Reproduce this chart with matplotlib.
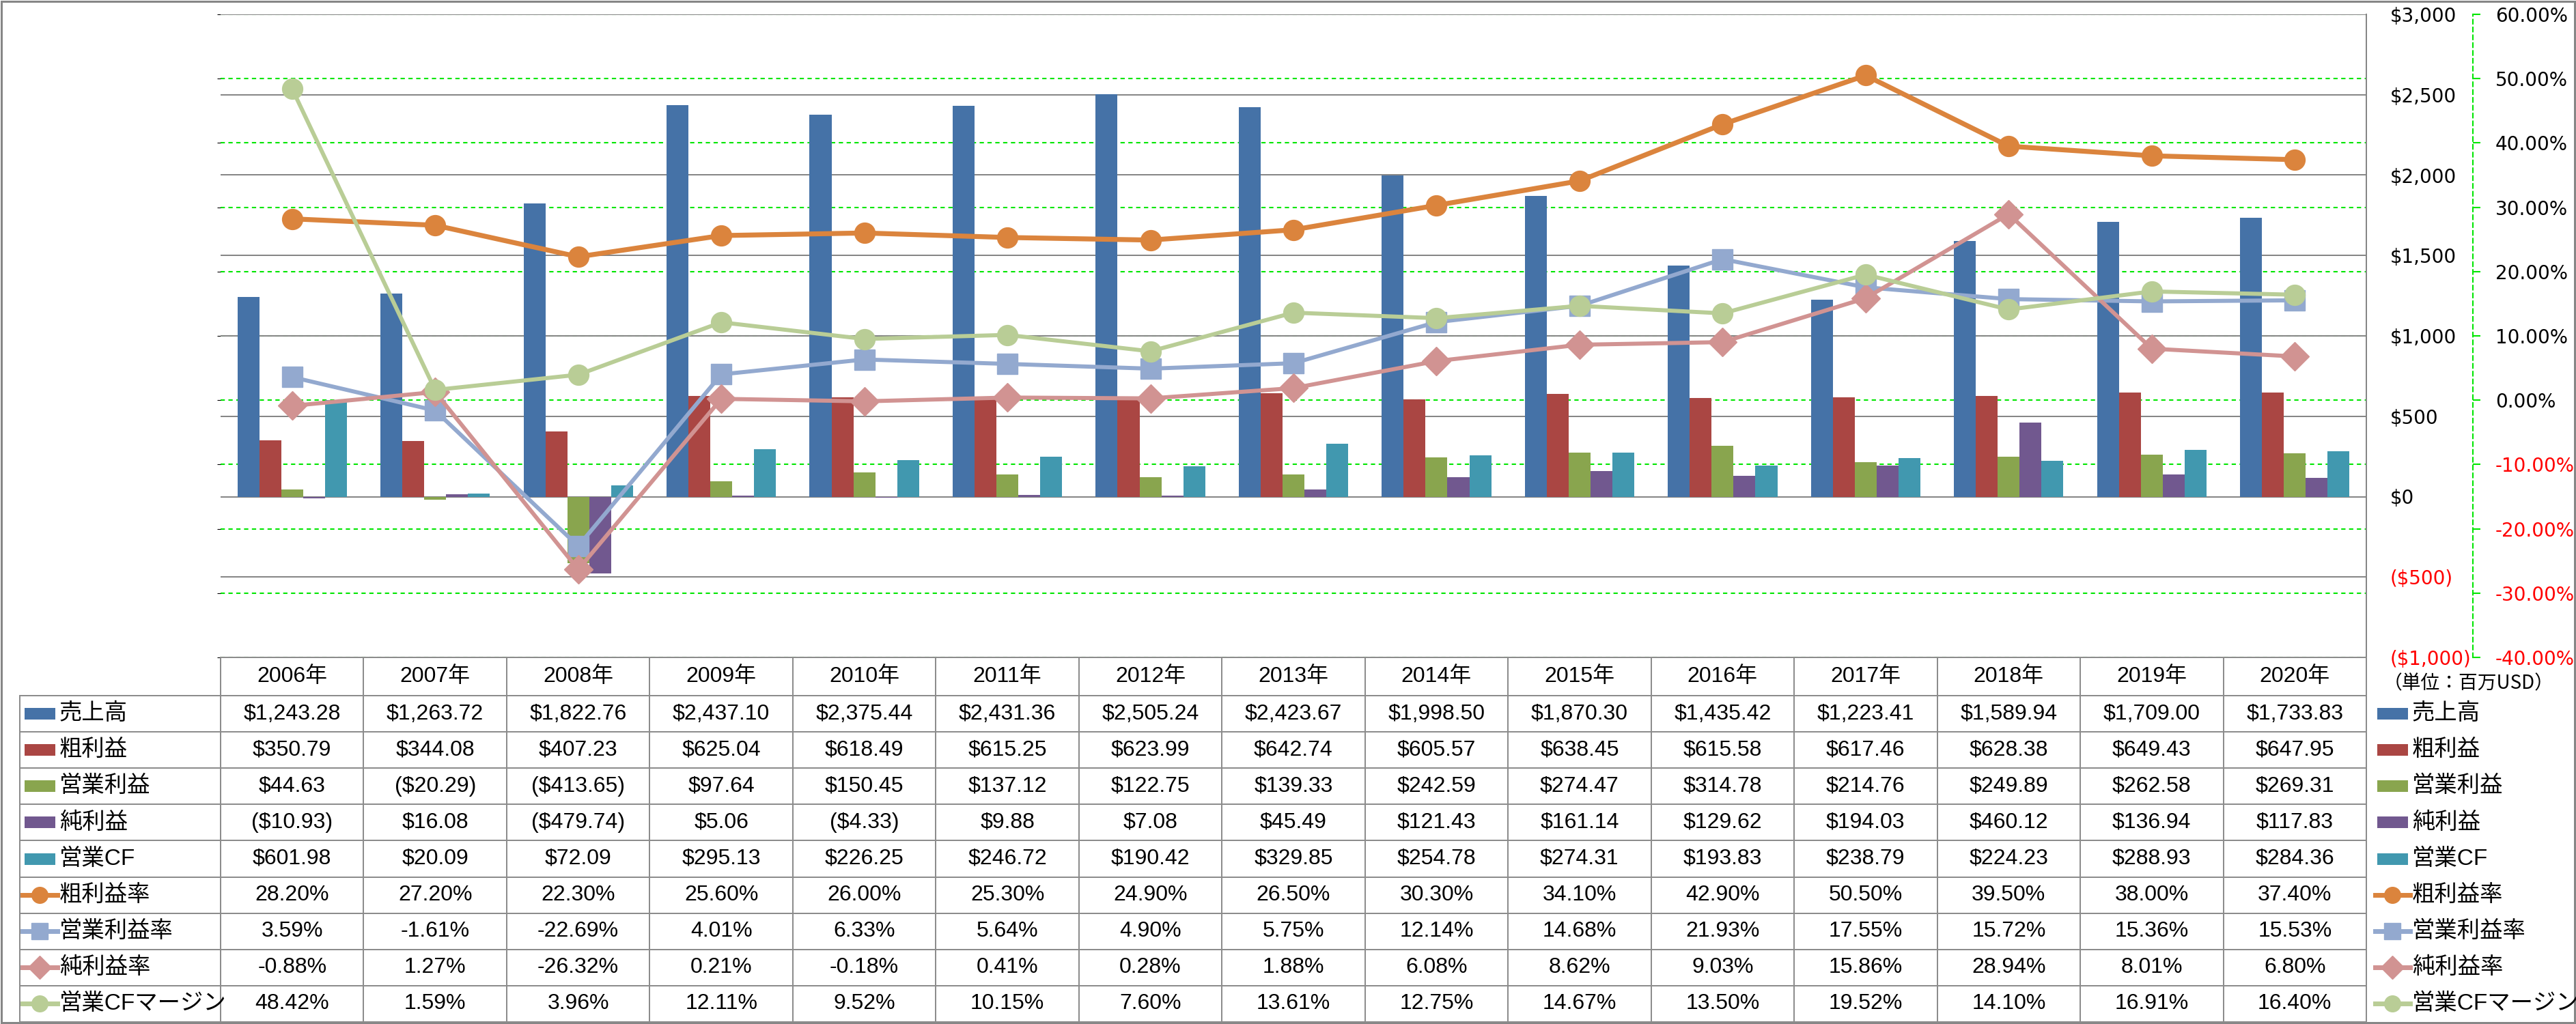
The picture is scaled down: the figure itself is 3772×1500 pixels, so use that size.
import numpy as np
import matplotlib
matplotlib.use('Agg')
import matplotlib.pyplot as plt
from matplotlib import font_manager
from matplotlib.lines import Line2D
from matplotlib.patches import Rectangle

# ---- data ----
years = ['2006年', '2007年', '2008年', '2009年', '2010年', '2011年', '2012年', '2013年',
         '2014年', '2015年', '2016年', '2017年', '2018年', '2019年', '2020年']

sales = [1243.28, 1263.72, 1822.76, 2437.10, 2375.44, 2431.36, 2505.24, 2423.67,
         1998.50, 1870.30, 1435.42, 1223.41, 1589.94, 1709.00, 1733.83]
gross = [350.79, 344.08, 407.23, 625.04, 618.49, 615.25, 623.99, 642.74,
         605.57, 638.45, 615.58, 617.46, 628.38, 649.43, 647.95]
op_income = [44.63, -20.29, -413.65, 97.64, 150.45, 137.12, 122.75, 139.33,
             242.59, 274.47, 314.78, 214.76, 249.89, 262.58, 269.31]
net_income = [-10.93, 16.08, -479.74, 5.06, -4.33, 9.88, 7.08, 45.49,
              121.43, 161.14, 129.62, 194.03, 460.12, 136.94, 117.83]
op_cf = [601.98, 20.09, 72.09, 295.13, 226.25, 246.72, 190.42, 329.85,
         254.78, 274.31, 193.83, 238.79, 224.23, 288.93, 284.36]

gross_margin = [28.20, 27.20, 22.30, 25.60, 26.00, 25.30, 24.90, 26.50,
                30.30, 34.10, 42.90, 50.50, 39.50, 38.00, 37.40]
op_margin = [3.59, -1.61, -22.69, 4.01, 6.33, 5.64, 4.90, 5.75,
             12.14, 14.68, 21.93, 17.55, 15.72, 15.36, 15.53]
net_margin = [-0.88, 1.27, -26.32, 0.21, -0.18, 0.41, 0.28, 1.88,
              6.08, 8.62, 9.03, 15.86, 28.94, 8.01, 6.80]
cf_margin = [48.42, 1.59, 3.96, 12.11, 9.52, 10.15, 7.60, 13.61,
             12.75, 14.67, 13.50, 19.52, 14.10, 16.91, 16.40]

bar_names = ['売上高', '粗利益', '営業利益', '純利益', '営業CF']
bar_series = [sales, gross, op_income, net_income, op_cf]
bar_colors = ['#4572A7', '#AA4643', '#89A54E', '#71588F', '#4198AF']

line_names = ['粗利益率', '営業利益率', '純利益率', '営業CFマージン']
line_series = [gross_margin, op_margin, net_margin, cf_margin]
line_colors = ['#DB843D', '#93A9CF', '#D19392', '#B9CD96']
line_markers = ['o', 's', 'D', 'o']

usd_ticks = [-1000, -500, 0, 500, 1000, 1500, 2000, 2500, 3000]
pct_ticks = [-40, -30, -20, -10, 0, 10, 20, 30, 40, 50, 60]

unit_note = '（単位：百万USD）'

# ---- layout (pixels) ----
W, H = 3773, 1500
L, R, T, B = 323, 3465, 21, 963
PX = 0.72  # points per pixel at dpi 100
GRAY = '#868686'
LIME = '#00E600'

names = {f.name for f in font_manager.fontManager.ttflist}
narrow = 'Liberation Sans Narrow' if 'Liberation Sans Narrow' in names else 'Liberation Sans'
TFONT = [narrow, 'Noto Sans CJK JP']
plt.rcParams['font.family'] = ['DejaVu Sans', 'Noto Sans CJK JP']

fig = plt.figure(figsize=(W / 100, H / 100), dpi=100)
rect = [L / W, 1 - B / H, (R - L) / W, (B - T) / H]

# % gridlines (behind everything)
axg = fig.add_axes(rect)
axg.set_ylim(-40, 60)
axg.set_yticks(pct_ticks)
axg.yaxis.grid(True, color=LIME, linewidth=1.5, linestyle=(0, (3, 2.5)))
axg.tick_params(left=False, labelleft=False, bottom=False, labelbottom=False)
for s in axg.spines.values():
    s.set_visible(False)

# bars on $ axis
ax = axg.twinx()
ax.set_ylim(-1000, 3000)
ax.set_yticks(usd_ticks)
ax.set_yticklabels([f'(${abs(v):,.0f})' if v < 0 else f'${v:,.0f}' for v in usd_ticks])
ax.yaxis.grid(True, color=GRAY, linewidth=2 * PX)
ax.set_axisbelow(True)
ax.tick_params(axis='y', length=0, pad=35 * PX, labelsize=20)
for k in ['top', 'bottom', 'left']:
    ax.spines[k].set_visible(False)
ax.spines['right'].set_color(GRAY)
ax.spines['right'].set_linewidth(2 * PX)

x = np.arange(len(years))
bw = 0.153
for i, (vals, c) in enumerate(zip(bar_series, bar_colors)):
    ax.bar(x + (i - 2) * bw, vals, width=bw, color=c, zorder=2)

# lines on % axis
axl = axg.twinx()
axl.set_ylim(-40, 60)
axl.set_yticks(pct_ticks)
axl.set_yticklabels([f'{v:.2f}%' for v in pct_ticks])
for k in ['top', 'bottom', 'left']:
    axl.spines[k].set_visible(False)
axl.spines['right'].set_position(('outward', 156 * PX))
axl.spines['right'].set_color(LIME)
axl.spines['right'].set_linestyle((0, (3, 2.5)))
axl.spines['right'].set_linewidth(1.5)
axl.tick_params(axis='y', direction='out', length=11 * PX, width=1.5, color=LIME,
                pad=22 * PX, labelsize=20)
for j, (vals, c, m) in enumerate(zip(line_series, line_colors, line_markers)):
    axl.plot(x, vals, color=c, linewidth=5.2 if j == 0 else 4.3,
             marker=m, markersize=21.5, markerfacecolor=c, markeredgecolor=c, clip_on=False)

for a in (axg, ax, axl):
    a.set_xlim(-0.5, 14.5)
    a.set_xticks([])

# ---- table / frame overlay ----
tb = fig.add_axes([0, 0, 1, 1])
tb.set_xlim(0, W)
tb.set_ylim(H, 0)
tb.axis('off')
tb.patch.set_alpha(0)

colw = (R - L) / len(years)
row_top, tab_bot = 1019, 1497
nrows = len(bar_names) + len(line_names)
rh = (tab_bot - row_top) / nrows
lc = '#8C8C8C'
lw = 2 * PX

tb.plot([L, R], [B, B], color=lc, lw=lw)
for k in range(nrows + 1):
    y = row_top + k * rh
    tb.plot([29, R], [y, y], color=lc, lw=lw)
tb.plot([29, 29], [row_top, tab_bot], color=lc, lw=lw)
for i in range(len(years) + 1):
    xx = L + i * colw
    tb.plot([xx, xx], [B, tab_bot], color=lc, lw=lw)

# outer frame
tb.add_patch(Rectangle((2, 2), W - 5, H - 4, fill=False, edgecolor=GRAY, lw=3 * PX))

fs = 23
for i, yl in enumerate(years):
    tb.text(L + (i + 0.5) * colw, (B + row_top) / 2, yl, ha='center', va='center',
            fontsize=fs, family=TFONT)


def fmt_usd(v):
    s = f'${abs(v):,.2f}'
    return f'({s})' if v < 0 else s


rows = [(n, vals, fmt_usd) for n, vals in zip(bar_names, bar_series)] + \
       [(n, vals, lambda v: f'{v:.2f}%') for n, vals in zip(line_names, line_series)]

for r, (name, vals, f) in enumerate(rows):
    yc = row_top + (r + 0.5) * rh
    for i, v in enumerate(vals):
        tb.text(L + (i + 0.5) * colw, yc, f(v), ha='center', va='center',
                fontsize=fs, family=TFONT)
    # left legend key + label, right legend key + label
    for x0, tx in ((36, 87), (3481, 3532)):
        if r < len(bar_names):
            tb.add_patch(Rectangle((x0, yc - 8.5), 45, 17, color=bar_colors[r], lw=0))
        else:
            j = r - len(bar_names)
            tb.add_line(Line2D([x0 - 3, x0 + 48], [yc, yc], color=line_colors[j], lw=5))
            tb.add_line(Line2D([x0 + 22.5], [yc], marker=line_markers[j], markersize=17,
                               color=line_colors[j]))
        tb.text(tx, yc, name, ha='left', va='center', fontsize=24, family=TFONT)

tb.text(3490, 1001, unit_note, ha='left', va='center', fontsize=20, family=['Noto Sans CJK JP'])

# red negative axis labels
fig.canvas.draw()
for tick, v in zip(ax.yaxis.get_major_ticks(), usd_ticks):
    if v < 0:
        tick.label2.set_color('red')
for tick, v in zip(axl.yaxis.get_major_ticks(), pct_ticks):
    if v < 0:
        tick.label2.set_color('red')

fig.savefig('out.png', dpi=100)
